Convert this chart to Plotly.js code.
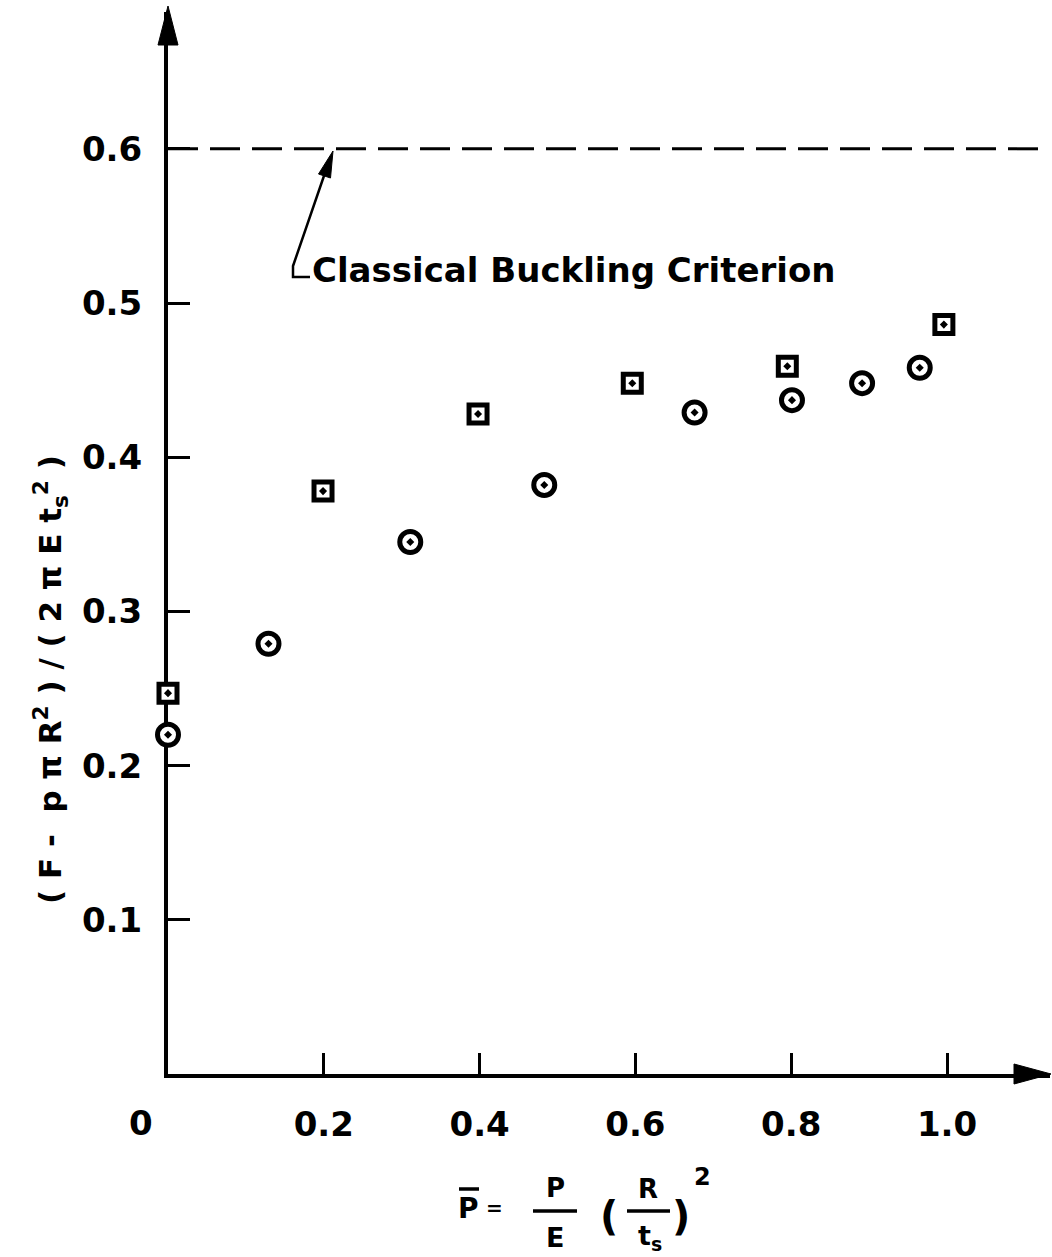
<!DOCTYPE html>
<html>
<head>
<meta charset="utf-8">
<script src="https://cdn.plot.ly/plotly-3.0.1.min.js"></script>
<style>html,body{margin:0;padding:0;background:#fff;}#chart{width:1052px;height:1257px;}</style>
</head>
<body>
<div id="chart"></div>
<script>
// ---- data ----
const squareX = [0.0, 0.199, 0.398, 0.596, 0.795, 0.996];
const squareY = [0.247, 0.378, 0.428, 0.448, 0.459, 0.486];
const circleX = [0.0, 0.129, 0.311, 0.483, 0.676, 0.801, 0.891, 0.965];
const circleY = [0.220, 0.279, 0.345, 0.382, 0.429, 0.437, 0.448, 0.458];
const classicalCriterion = 0.6;
const xTickVals = [0.2, 0.4, 0.6, 0.8, 1.0];
const xTickText = ["0.2", "0.4", "0.6", "0.8", "1.0"];
const yTickVals = [0.1, 0.2, 0.3, 0.4, 0.5, 0.6];
const yTickText = ["0.1", "0.2", "0.3", "0.4", "0.5", "0.6"];
const criterionLabel = "Classical Buckling Criterion";

// ---- layout geometry (pixels) ----
const W = 1052, H = 1257;
const L = 168, R = 2, T = 12, B = 183;
const PW = W - L - R, PH = H - T - B;
const X = px => (px - L) / PW;          // pixel -> paper x
const Y = py => (H - B - py) / PH;      // pixel -> paper y
const FONT = "DejaVu Sans";

const traces = [
  {
    x: squareX, y: squareY, type: "scatter", mode: "markers", cliponaxis: false,
    marker: {symbol: "square-dot", size: 18, color: "#fff", line: {color: "#000", width: 5}},
    hoverinfo: "skip", showlegend: false
  },
  {
    x: circleX, y: circleY, type: "scatter", mode: "markers", cliponaxis: false,
    marker: {symbol: "circle-dot", size: 21, color: "#fff", line: {color: "#000", width: 5}},
    hoverinfo: "skip", showlegend: false
  }
];

const shapes = [
  // classical buckling criterion dashed line
  {type: "line", xref: "paper", yref: "y", x0: 0, x1: X(1045), y0: classicalCriterion, y1: classicalCriterion,
   line: {color: "#000", width: 3, dash: "30px,12px"}},
  // y axis arrowhead
  {type: "path", xref: "paper", yref: "paper",
   path: `M ${X(168)},${Y(6)} L ${X(158)},${Y(45)} L ${X(178)},${Y(45)} Z`,
   fillcolor: "#000", line: {color: "#000", width: 1}},
  // x axis arrowhead
  {type: "path", xref: "paper", yref: "paper",
   path: `M ${X(1051)},${Y(1074)} L ${X(1014)},${Y(1064)} L ${X(1014)},${Y(1084)} Z`,
   fillcolor: "#000", line: {color: "#000", width: 1}},
  // leader: L foot + diagonal
  {type: "path", xref: "paper", yref: "paper",
   path: `M ${X(310)},${Y(277)} L ${X(293)},${Y(277)} L ${X(293)},${Y(266)} L ${X(326)},${Y(170)}`,
   line: {color: "#000", width: 2.5}},
  // leader arrowhead
  {type: "path", xref: "paper", yref: "paper",
   path: `M ${X(333)},${Y(151)} L ${X(330.5)},${Y(178)} L ${X(318.5)},${Y(174)} Z`,
   fillcolor: "#000", line: {color: "#000", width: 1}},
  // fraction bars of the x title
  {type: "line", xref: "paper", yref: "paper", x0: X(533), x1: X(577), y0: Y(1211), y1: Y(1211),
   line: {color: "#000", width: 3.5}},
  {type: "line", xref: "paper", yref: "paper", x0: X(627), x1: X(670), y0: Y(1211), y1: Y(1211),
   line: {color: "#000", width: 3.5}},
  // bar over P
  {type: "line", xref: "paper", yref: "paper", x0: X(459), x1: X(479), y0: Y(1189), y1: Y(1189),
   line: {color: "#000", width: 3.5}}
];

function txt(px, py, text, size, extra) {
  return Object.assign({xref: "paper", yref: "paper", x: X(px), y: Y(py), text: text, showarrow: false,
    xanchor: "center", yanchor: "middle", font: {family: FONT, size: size, color: "#000", weight: "bold"}}, extra || {});
}

const annotations = [
  txt(310, 270, criterionLabel, 34, {xanchor: "left"}),
  // origin label
  txt(141, 1123, "0", 34),
  // x title pieces
  txt(468, 1208, "P", 28),
  txt(494, 1208, "=", 20),
  txt(555, 1188, "P", 26),
  txt(555, 1237, "E", 27),
  txt(609, 1216, "(", 40),
  txt(648, 1189, "R", 26),
  txt(650, 1237, "t<sub>s</sub>", 27),
  txt(681, 1216, ")", 40),
  txt(702, 1177, "2", 24),
  // y title
  txt(50, 680, "( F -  p π R<sup>2</sup> ) / ( 2 π E t<sub>s</sub><sup>2</sup> )", 31, {textangle: -90})
];

const layout = {
  width: W, height: H,
  margin: {l: L, r: R, t: T, b: B, pad: 0},
  paper_bgcolor: "#fff", plot_bgcolor: "#fff",
  showlegend: false,
  xaxis: {
    range: [0, PW / 779], showgrid: false, zeroline: false, showline: true, linecolor: "#000", linewidth: 4,
    ticks: "inside", ticklen: 21, tickwidth: 3, tickcolor: "#000",
    tickvals: xTickVals, ticktext: xTickText, ticklabelstandoff: 17,
    tickfont: {family: FONT, size: 34, color: "#000", weight: "bold"}, layer: "below traces", fixedrange: true
  },
  yaxis: {
    range: [0, PH / 1542], showgrid: false, zeroline: false, showline: true, linecolor: "#000", linewidth: 4,
    ticks: "inside", ticklen: 22, tickwidth: 3, tickcolor: "#000",
    tickvals: yTickVals, ticktext: yTickText, ticklabelstandoff: 15,
    tickfont: {family: FONT, size: 34, color: "#000", weight: "bold"}, layer: "below traces", fixedrange: true
  },
  shapes: shapes,
  annotations: annotations
};

Plotly.newPlot("chart", traces, layout, {staticPlot: true, displayModeBar: false});
</script>
</body>
</html>
